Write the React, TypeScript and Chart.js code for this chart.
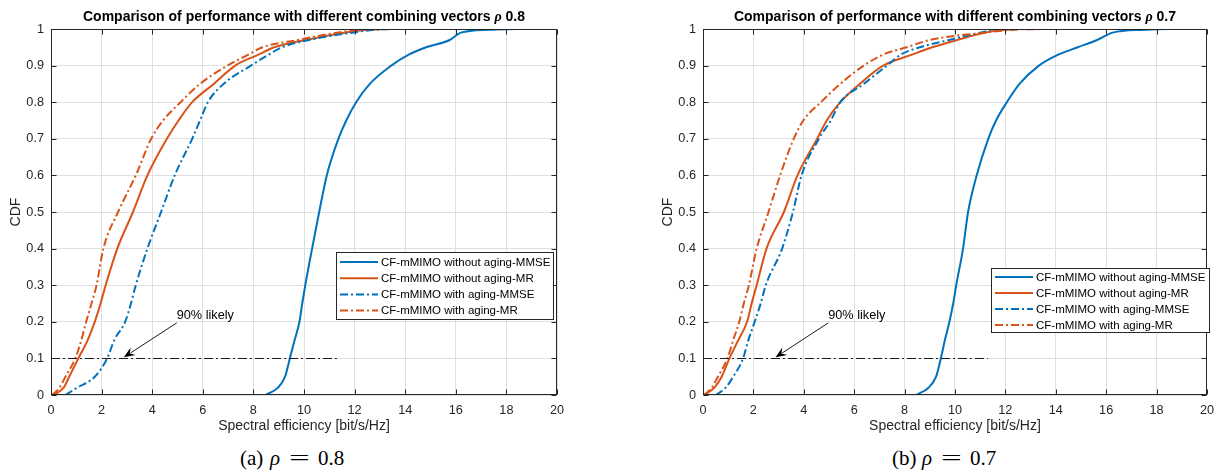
import React, { useEffect, useRef } from 'react';
import { Chart, registerables } from 'chart.js';

Chart.register(...registerables);

// ---- DATA ----
// CDF levels shared by all curves
const cdfLevels = [0, 0.02, 0.05, 0.1, 0.15, 0.2, 0.25, 0.3, 0.4, 0.5, 0.6, 0.7, 0.75, 0.8, 0.85, 0.9, 0.93, 0.95, 0.97, 0.99, 0.998, 1];

const seriesLabels = [
  'CF-mMIMO without aging-MMSE',
  'CF-mMIMO without aging-MR',
  'CF-mMIMO with aging-MMSE',
  'CF-mMIMO with aging-MR',
];

// rho = 0.8 : spectral efficiency [bit/s/Hz] at each CDF level
const se08NoAgingMMSE = [8.48, 8.97, 9.25, 9.44, 9.63, 9.82, 9.93, 10.05, 10.32, 10.6, 10.9, 11.36, 11.67, 12.06, 12.6, 13.45, 14.14, 14.83, 15.76, 16.2, 17.3, 18.38];
const se08NoAgingMR = [0.1, 0.5, 0.72, 1.08, 1.45, 1.73, 1.96, 2.16, 2.62, 3.24, 3.81, 4.58, 5.04, 5.58, 6.43, 7.28, 8.2, 8.82, 10.05, 11.6, 12.5, 13.3];
const se08AgingMMSE = [0.57, 1.03, 1.73, 2.22, 2.5, 2.93, 3.16, 3.35, 3.81, 4.35, 4.89, 5.58, 5.89, 6.2, 6.82, 7.9, 8.6, 9.13, 10.2, 11.9, 12.8, 13.45];
const se08AgingMR = [0.05, 0.34, 0.57, 0.96, 1.2, 1.39, 1.6, 1.8, 2.07, 2.65, 3.35, 3.96, 4.43, 5.12, 5.89, 6.97, 7.8, 8.36, 9.75, 11.29, 12.2, 12.83];

// rho = 0.7
const se07NoAgingMMSE = [8.46, 8.95, 9.25, 9.44, 9.6, 9.78, 9.93, 10.05, 10.32, 10.52, 10.86, 11.32, 11.63, 12.06, 12.56, 13.33, 14.1, 14.87, 15.64, 16.26, 17.5, 18.35];
const se07NoAgingMR = [0.05, 0.45, 0.74, 1.05, 1.4, 1.75, 1.93, 2.13, 2.52, 3.21, 3.75, 4.53, 4.91, 5.45, 6.22, 7.15, 8.3, 9.1, 10.08, 11.17, 12.0, 12.56];
const se07AgingMMSE = [0.51, 0.9, 1.2, 1.59, 1.8, 2.05, 2.29, 2.49, 3.14, 3.57, 3.91, 4.6, 5.07, 5.45, 6.38, 7.3, 7.85, 8.6, 9.77, 11.0, 11.8, 12.4];
const se07AgingMR = [0.05, 0.35, 0.59, 0.97, 1.2, 1.44, 1.62, 1.82, 2.13, 2.6, 3.06, 3.6, 3.98, 4.68, 5.45, 6.38, 7.15, 8.08, 9.0, 11.17, 12.3, 13.48];

const rhoValues = ['0.8', '0.7'];
const captionTags = ['a', 'b'];

const xTickValues = [0, 2, 4, 6, 8, 10, 12, 14, 16, 18, 20];
const yTickValues = [0, 0.1, 0.2, 0.3, 0.4, 0.5, 0.6, 0.7, 0.8, 0.9, 1];

// annotation (data coordinates)
const refLevel = 0.1;
const refLineEnd = 11.3;
const annotationText = '90% likely';
const arrowTail = [4.97, 0.197];
const arrowHead = [2.88, 0.103];
const annotationTextPos = [4.97, 0.217];

// ---- STYLE ----
const SANS = '"Liberation Sans", Arial, Helvetica, sans-serif';
const SERIF = '"Liberation Serif", "Times New Roman", serif';
const AXIS_COLOR = '#262626';
const GRID_COLOR = '#e0e0e0';
const seriesColors = ['#0072BD', '#D95319', '#0072BD', '#D95319'];
const seriesDash: number[][] = [[], [], [8, 3, 2, 3], [8, 3, 2, 3]];

const CANVAS_W = 611;
const CANVAS_H = 440;

type LegendBox = { left: number; top: number; width: number; height: number; rowOffset: number; rowGap: number };

function makeDecorPlugin(rho: string, legend: LegendBox) {
  return {
    id: 'matlabDecor',
    afterDraw(chart: any) {
      const { ctx, chartArea: a } = chart;
      const xs = chart.scales.x;
      const ys = chart.scales.y;
      ctx.save();

      // reference dash-dot line
      ctx.strokeStyle = '#1a1a1a';
      ctx.lineWidth = 1;
      ctx.setLineDash([9, 3, 2, 3]);
      const ry = Math.round(ys.getPixelForValue(refLevel)) + 0.5;
      ctx.beginPath();
      ctx.moveTo(xs.getPixelForValue(0), ry);
      ctx.lineTo(xs.getPixelForValue(refLineEnd), ry);
      ctx.stroke();
      ctx.setLineDash([]);

      // arrow
      const tx = xs.getPixelForValue(arrowTail[0]);
      const ty = ys.getPixelForValue(arrowTail[1]);
      const hx = xs.getPixelForValue(arrowHead[0]);
      const hy = ys.getPixelForValue(arrowHead[1]);
      const ang = Math.atan2(hy - ty, hx - tx);
      const len = 11;
      const hw = 4.5;
      const bx = hx - len * Math.cos(ang);
      const by = hy - len * Math.sin(ang);
      ctx.strokeStyle = '#000';
      ctx.lineWidth = 0.9;
      ctx.beginPath();
      ctx.moveTo(tx, ty);
      ctx.lineTo(bx + 3 * Math.cos(ang), by + 3 * Math.sin(ang));
      ctx.stroke();
      ctx.fillStyle = '#000';
      ctx.beginPath();
      ctx.moveTo(hx, hy);
      ctx.lineTo(bx - hw * Math.sin(ang), by + hw * Math.cos(ang));
      ctx.lineTo(bx + 4 * Math.cos(ang), by + 4 * Math.sin(ang));
      ctx.lineTo(bx + hw * Math.sin(ang), by - hw * Math.cos(ang));
      ctx.closePath();
      ctx.fill();

      ctx.fillStyle = '#000';
      ctx.font = `12.7px ${SANS}`;
      ctx.textAlign = 'left';
      ctx.textBaseline = 'middle';
      ctx.fillText(annotationText, xs.getPixelForValue(annotationTextPos[0]), ys.getPixelForValue(annotationTextPos[1]));

      // axes box
      const L = Math.round(a.left) + 0.5;
      const R = Math.round(a.right) - 0.5;
      const T = Math.round(a.top) + 0.5;
      const B = Math.round(a.bottom) - 0.5;
      ctx.strokeStyle = AXIS_COLOR;
      ctx.lineWidth = 1;
      ctx.strokeRect(L, T, R - L, B - T);
      // inward ticks
      const tl = 5;
      ctx.beginPath();
      xTickValues.forEach((v) => {
        const px = Math.round(xs.getPixelForValue(v)) + 0.5;
        ctx.moveTo(px, B);
        ctx.lineTo(px, B - tl);
        ctx.moveTo(px, T);
        ctx.lineTo(px, T + tl);
      });
      yTickValues.forEach((v) => {
        const py = Math.round(ys.getPixelForValue(v)) + 0.5;
        ctx.moveTo(L, py);
        ctx.lineTo(L + tl, py);
        ctx.moveTo(R, py);
        ctx.lineTo(R - tl, py);
      });
      ctx.stroke();

      // legend
      ctx.fillStyle = '#fff';
      ctx.fillRect(legend.left, legend.top, legend.width, legend.height);
      ctx.strokeStyle = AXIS_COLOR;
      ctx.lineWidth = 1;
      ctx.strokeRect(legend.left + 0.5, legend.top + 0.5, legend.width - 1, legend.height - 1);
      ctx.font = `11.5px ${SANS}`;
      ctx.textBaseline = 'middle';
      ctx.textAlign = 'left';
      chart.data.datasets.forEach((ds: any, i: number) => {
        const cy = legend.top + legend.rowOffset + i * legend.rowGap;
        ctx.strokeStyle = ds.borderColor;
        ctx.lineWidth = 2;
        ctx.setLineDash(ds.borderDash || []);
        ctx.beginPath();
        ctx.moveTo(legend.left + 4, cy);
        ctx.lineTo(legend.left + 42, cy);
        ctx.stroke();
        ctx.setLineDash([]);
        ctx.fillStyle = '#000';
        ctx.fillText(ds.label, legend.left + 45, cy + 0.5);
      });

      // title
      const cx = (a.left + a.right) / 2;
      const part1 = 'Comparison of performance with different combining vectors ';
      const part3 = ' ' + rho;
      const fBold = `bold 14px ${SANS}`;
      const fRho = `italic bold 14px ${SERIF}`;
      ctx.font = fBold;
      const w1 = ctx.measureText(part1).width;
      const w3 = ctx.measureText(part3).width;
      ctx.font = fRho;
      const w2 = ctx.measureText('ρ').width;
      let x0 = cx - (w1 + w2 + w3) / 2;
      ctx.fillStyle = '#000';
      ctx.textBaseline = 'alphabetic';
      ctx.font = fBold;
      ctx.fillText(part1, x0, 21);
      x0 += w1;
      ctx.font = fRho;
      ctx.fillText('ρ', x0, 21);
      x0 += w2;
      ctx.font = fBold;
      ctx.fillText(part3, x0, 21);

      // axis titles
      ctx.fillStyle = AXIS_COLOR;
      ctx.font = `14px ${SANS}`;
      ctx.textAlign = 'center';
      ctx.textBaseline = 'alphabetic';
      ctx.fillText('Spectral efficiency [bit/s/Hz]', cx, 430);
      ctx.save();
      ctx.translate(a.left - 35, (a.top + a.bottom) / 2);
      ctx.rotate(-Math.PI / 2);
      ctx.textBaseline = 'middle';
      ctx.fillText('CDF', 0, 0);
      ctx.restore();

      ctx.restore();
    },
  };
}

type CdfProps = {
  left: number;
  rho: string;
  series: number[][];
  yAxisWidth: number;
  rightPad: number;
  legend: LegendBox;
};

function CdfChart({ left, rho, series, yAxisWidth, rightPad, legend }: CdfProps) {
  const ref = useRef<HTMLCanvasElement>(null);
  useEffect(() => {
    const tickFont = { family: SANS, size: 12.7 };
    const chart = new Chart(ref.current as HTMLCanvasElement, {
      type: 'line',
      data: {
        datasets: series.map((xsArr, i) => ({
          label: seriesLabels[i],
          data: xsArr.map((v, j) => ({ x: v, y: cdfLevels[j] })),
          borderColor: seriesColors[i],
          backgroundColor: seriesColors[i],
          borderDash: seriesDash[i],
          borderWidth: 2,
          pointRadius: 0,
          fill: false,
          cubicInterpolationMode: 'monotone',
          order: series.length - i,
        })),
      },
      options: {
        responsive: false,
        animation: false,
        layout: { padding: { top: 29, right: rightPad, bottom: 0, left: 0 } },
        plugins: {
          legend: { display: false },
          title: { display: false },
          tooltip: { enabled: false },
        },
        scales: {
          x: {
            type: 'linear',
            min: 0,
            max: 20,
            ticks: {
              stepSize: 2,
              color: AXIS_COLOR,
              font: tickFont,
              padding: 8,
              maxRotation: 0,
              autoSkip: false,
              callback: (v: any) => String(v),
            },
            grid: { color: GRID_COLOR, lineWidth: 1, drawTicks: false },
            border: { display: false },
            afterFit: (s: any) => {
              s.height = CANVAS_H - 395;
            },
          },
          y: {
            type: 'linear',
            min: 0,
            max: 1,
            ticks: {
              stepSize: 0.1,
              color: AXIS_COLOR,
              font: tickFont,
              padding: 7,
              autoSkip: false,
              callback: (v: any) => String(Number(Number(v).toFixed(1))),
            },
            grid: { color: GRID_COLOR, lineWidth: 1, drawTicks: false },
            border: { display: false },
            afterFit: (s: any) => {
              s.width = yAxisWidth;
            },
          },
        },
      } as any,
      plugins: [makeDecorPlugin(rho, legend)],
    });
    return () => chart.destroy();
  }, []);
  return (
    <canvas
      ref={ref}
      width={CANVAS_W}
      height={CANVAS_H}
      style={{ position: 'absolute', left, top: 0, width: CANVAS_W, height: CANVAS_H }}
    />
  );
}

function Caption({ left, tag, rho }: { left: number; tag: string; rho: string }) {
  const base: React.CSSProperties = {
    position: 'absolute',
    top: 446,
    fontFamily: SERIF,
    fontSize: 21,
    lineHeight: '24px',
    color: '#000',
    whiteSpace: 'pre',
  };
  return (
    <>
      <span style={{ ...base, left }}>({tag})</span>
      <span style={{ ...base, left: left + 30, fontStyle: 'italic' }}>ρ</span>
      <span style={{ ...base, left: left + 49, transform: 'scaleX(1.75)', transformOrigin: 'left center' }}>=</span>
      <span style={{ ...base, left: left + 78 }}>{rho}</span>
    </>
  );
}

export default function App() {
  return (
    <div style={{ position: 'absolute', left: 0, top: 0, width: 1222, height: 472, background: '#fff', overflow: 'hidden' }}>
      <CdfChart
        left={0}
        rho={rhoValues[0]}
        series={[se08NoAgingMMSE, se08NoAgingMR, se08AgingMMSE, se08AgingMR]}
        yAxisWidth={51}
        rightPad={54}
        legend={{ left: 336, top: 252, width: 218, height: 68, rowOffset: 10, rowGap: 16.2 }}
      />
      <CdfChart
        left={611}
        rho={rhoValues[1]}
        series={[se07NoAgingMMSE, se07NoAgingMR, se07AgingMMSE, se07AgingMR]}
        yAxisWidth={92}
        rightPad={14}
        legend={{ left: 380, top: 268, width: 219, height: 65, rowOffset: 9, rowGap: 16 }}
      />
      <Caption left={240} tag={captionTags[0]} rho={rhoValues[0]} />
      <Caption left={892} tag={captionTags[1]} rho={rhoValues[1]} />
    </div>
  );
}
